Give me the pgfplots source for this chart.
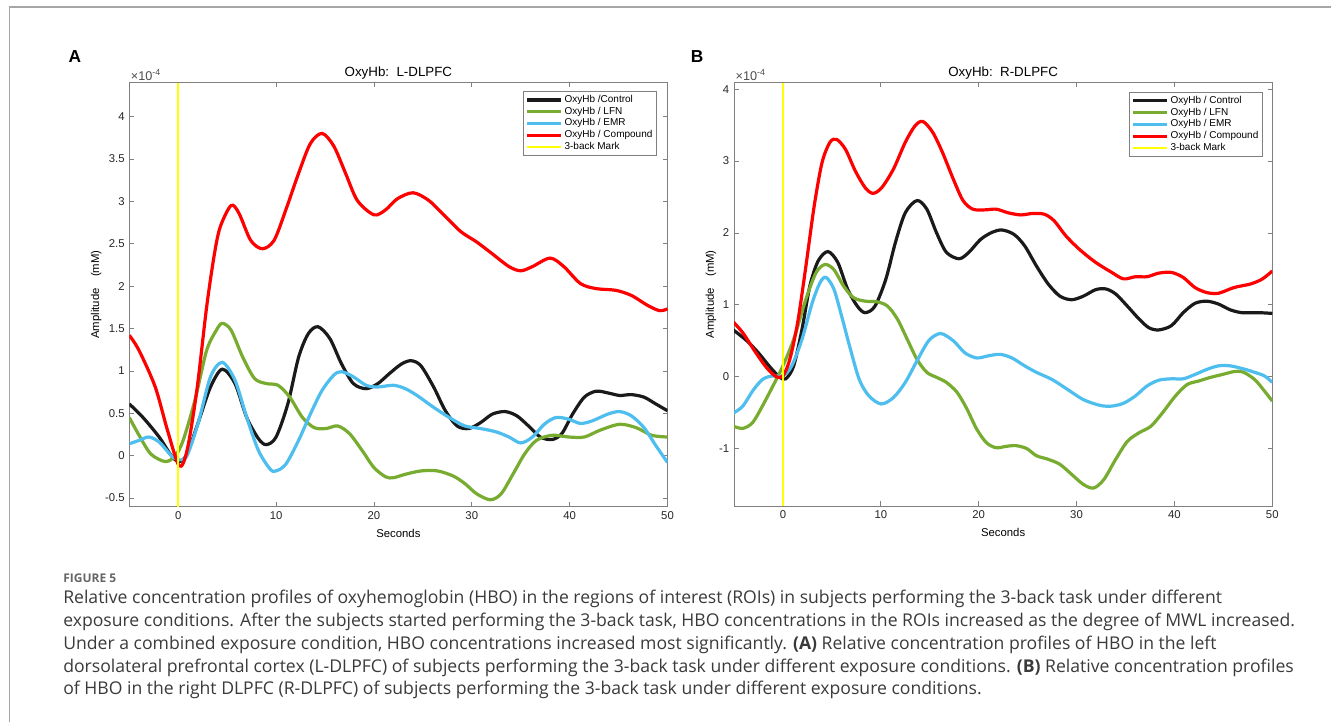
\documentclass[border=0pt]{standalone}
\usepackage{fontspec}
\setmainfont{Liberation Sans}
\newfontfamily\capfont{Open Sans}
\usepackage{pgfplots}
\pgfplotsset{compat=1.18}
\definecolor{ctrl}{HTML}{1A1A1A}
\definecolor{lfn}{HTML}{77AC30}
\definecolor{emr}{HTML}{4DBEEE}
\definecolor{cmp}{HTML}{FF0000}
\definecolor{backmark}{HTML}{FFFF00}
\definecolor{capgray}{HTML}{3A3A3A}

\pgfplotsset{
  oxy/.style={
    scale only axis,
    clip mode=individual,
    xmin=-5, xmax=50,
    xtick={0,10,...,50},
    axis line style={black!50},
    tick style={black!50, line width=0.5pt},
    major tick length=3.5pt,
    tick label style={font=\fontsize{8.5}{10}\selectfont, text=black!85},
    /pgf/number format/assume math mode=true,
    yticklabel style={/pgf/number format/fixed},
    every axis title shift=0pt,
    title style={font=\fontsize{10}{12}\selectfont, at={(0.5,1)}, anchor=south, yshift=-1pt},
    xlabel={Seconds},
    xlabel style={font=\fontsize{8.5}{10}\selectfont, at={(axis description cs:0.5,0)}, anchor=center, yshift=-19.9pt},
    ylabel={Amplitude\hspace{1em}(mM)},
    ylabel style={font=\fontsize{8.5}{10}\selectfont, anchor=center},
    legend cell align=left,
    legend style={draw=black!50, line width=0.5pt, font=\fontsize{7.5}{8}\selectfont,
      anchor=north east, inner sep=2pt, row sep=0pt,
      nodes={inner sep=1.2pt, text height=5pt, text depth=1.45pt}},
    legend image code/.code={\draw[#1] (0pt,0pt) -- (25.5pt,0pt);},
  },
  curve/.style={line width=2.4pt, smooth, tension=0.5},
  markline/.style={backmark, line width=1.5pt, sharp plot},
}

\begin{document}
\begin{tikzpicture}
\useasboundingbox (0,0) rectangle (998.25pt,-541.5pt);
\draw[black!35, line width=1pt] (7.1pt,-541.5pt) -- (7.1pt,-5.25pt) -- (998.25pt,-5.25pt);

\node[font=\bfseries\fontsize{13}{15}\selectfont] at (56.25pt,-42.75pt) {A};
\node[font=\bfseries\fontsize{13}{15}\selectfont] at (522.75pt,-42.75pt) {B};

% panel A
\begin{axis}[oxy,
  at={(96.975pt,-379.9pt)}, anchor=south west,
  width=403.65pt, height=318pt,
  ymin=-0.6, ymax=4.4,
  ytick={-0.5,0,0.5,1,1.5,2,2.5,3,3.5,4},
  title={OxyHb:\ \ L-DLPFC},
  ylabel style={at={(axis description cs:-0.0617,0.5)}},
  legend style={at={(rel axis cs:0.9805,0.98)}},
]
\addplot[curve, ctrl] coordinates {
(-5,0.61)(-3.6,0.45)(-1.95,0.22)(-0.7,0.0)(0.1,-0.07)(0.9,0.02)(2.1,0.41)(3.3,0.81)
(4.5,1.02)(5.8,0.85)(7.0,0.45)(8.2,0.20)(9.0,0.13)(10.0,0.22)(11.2,0.61)(12.3,1.16)
(13.3,1.44)(14.3,1.52)(15.5,1.38)(16.7,1.08)(17.9,0.85)(19.2,0.79)(20.4,0.85)(21.6,0.97)
(22.8,1.08)(23.8,1.12)(24.8,1.06)(26.1,0.81)(27.3,0.53)(28.5,0.35)(29.7,0.32)(30.9,0.39)
(32.1,0.49)(33.4,0.52)(34.6,0.47)(35.8,0.35)(37.0,0.22)(38.2,0.19)(39.2,0.26)(40.3,0.49)
(41.5,0.69)(42.7,0.76)(43.9,0.74)(45.1,0.71)(46.3,0.72)(47.6,0.69)(48.8,0.61)(50,0.53)
};
\addplot[curve, lfn] coordinates {
(-5,0.45)(-4,0.24)(-2.8,0.02)(-1.3,-0.07)(-0.3,0.0)(0.5,0.18)(1.7,0.65)(2.9,1.24)
(3.9,1.48)(4.5,1.56)(5.4,1.48)(6.6,1.16)(7.8,0.91)(9.0,0.85)(10.2,0.83)(11.4,0.69)
(12.7,0.45)(13.9,0.33)(15.1,0.32)(16.3,0.35)(17.5,0.26)(18.8,0.06)(20.0,-0.14)(21.2,-0.25)
(22.0,-0.26)(23.2,-0.22)(24.8,-0.18)(26.5,-0.18)(28.1,-0.24)(29.3,-0.33)(30.5,-0.45)(31.9,-0.52)
(33.0,-0.45)(34.2,-0.22)(35.4,0.02)(36.6,0.18)(38.2,0.24)(39.9,0.22)(41.5,0.22)(43.1,0.30)
(45.1,0.37)(46.8,0.33)(48.4,0.24)(50,0.22)
};
\addplot[curve, emr] coordinates {
(-5,0.14)(-4,0.18)(-3.0,0.22)(-1.95,0.16)(-0.7,0.0)(0.1,-0.05)(0.9,0.0)(2.1,0.41)
(3.3,0.93)(4.5,1.10)(5.8,0.89)(7.0,0.45)(8.2,0.06)(9.4,-0.16)(10.0,-0.18)(11.0,-0.10)
(12.3,0.18)(13.5,0.49)(14.7,0.77)(15.9,0.95)(16.7,0.99)(17.9,0.93)(19.2,0.83)(20.4,0.81)
(22.0,0.83)(23.2,0.79)(24.4,0.71)(26.1,0.57)(27.7,0.45)(29.3,0.35)(30.9,0.32)(32.5,0.28)
(33.8,0.22)(35.0,0.15)(36.2,0.22)(37.4,0.37)(38.6,0.45)(39.9,0.43)(41.1,0.38)(42.3,0.41)
(43.9,0.49)(45.1,0.52)(46.3,0.47)(47.6,0.33)(48.8,0.12)(50,-0.08)
};
\addplot[curve, cmp] coordinates {
(-5,1.42)(-4,1.24)(-2.35,0.81)(-1.1,0.30)(0.1,-0.12)(0.9,0.06)(1.9,0.77)(2.9,1.75)
(3.7,2.38)(4.3,2.70)(5.4,2.95)(6.2,2.86)(7.4,2.54)(8.6,2.44)(9.8,2.54)(11.0,2.90)
(12.3,3.33)(13.5,3.68)(14.7,3.80)(15.9,3.65)(17.1,3.33)(18.3,3.01)(20.0,2.84)(21.2,2.90)
(22.4,3.03)(24.0,3.10)(25.6,3.01)(27.3,2.82)(28.9,2.64)(30.5,2.52)(32.1,2.38)(33.8,2.23)
(35.0,2.18)(36.2,2.23)(38.0,2.33)(39.4,2.23)(41.1,2.03)(42.7,1.97)(44.7,1.95)(46.3,1.89)
(48.0,1.77)(49.2,1.71)(50,1.73)
};
\addplot[markline] coordinates {(0,-0.6)(0,1.9)(0,4.4)};
\legend{OxyHb /Control, OxyHb / LFN, OxyHb / EMR, OxyHb / Compound, 3-back Mark}
\node[anchor=south west, inner sep=1pt, font=\fontsize{9.5}{10}\selectfont, text=black!70]
  at (rel axis cs:0,1) {×10\textsuperscript{-4}};
\end{axis}

% panel B
\begin{axis}[oxy,
  at={(550.5pt,-379.5pt)}, anchor=south west,
  width=403.7pt, height=317.5pt,
  ymin=-1.8, ymax=4.09,
  ytick={-1,0,1,2,3,4},
  title={OxyHb:\ \ R-DLPFC},
  ylabel style={at={(axis description cs:-0.0427,0.5)}},
  legend style={at={(rel axis cs:0.9827,0.978)}},
]
\addplot[curve, ctrl] coordinates {
(-5.07,0.65)(-3.7,0.50)(-2.5,0.33)(-1.3,0.13)(-0.3,-0.01)(0.3,-0.03)(1.1,0.15)(1.95,0.66)
(2.75,1.26)(3.6,1.61)(4.6,1.74)(5.6,1.59)(6.6,1.22)(7.6,0.98)(8.4,0.89)(9.4,0.98)
(10.5,1.35)(11.5,1.87)(12.5,2.28)(13.7,2.45)(14.7,2.33)(15.7,2.00)(16.7,1.73)(18.0,1.64)
(19.0,1.73)(20.2,1.91)(21.4,2.01)(22.4,2.04)(23.6,1.98)(24.7,1.82)(25.9,1.54)(27.1,1.29)
(28.3,1.12)(29.5,1.07)(30.7,1.12)(31.95,1.21)(33.0,1.22)(34.0,1.15)(35.2,0.98)(36.4,0.80)
(37.4,0.68)(38.4,0.65)(39.7,0.71)(40.9,0.89)(42.1,1.02)(43.3,1.05)(44.5,1.01)(45.7,0.93)
(46.9,0.89)(48.6,0.89)(50,0.88)
};
\addplot[curve, lfn] coordinates {
(-5.07,-0.69)(-4.1,-0.72)(-3.1,-0.64)(-2.1,-0.41)(-1.1,-0.15)(0,0.15)(1.1,0.52)(2.35,1.08)
(3.4,1.45)(4.3,1.56)(5.2,1.49)(6.2,1.26)(7.2,1.10)(8.4,1.05)(9.65,1.04)(10.7,0.98)
(11.7,0.80)(12.7,0.52)(13.7,0.24)(14.7,0.06)(15.7,-0.01)(16.7,-0.08)(17.8,-0.22)(18.8,-0.45)
(19.8,-0.73)(20.8,-0.92)(21.8,-0.99)(22.8,-0.97)(23.8,-0.96)(24.9,-1.00)(25.9,-1.10)(27.1,-1.15)
(28.3,-1.22)(29.5,-1.36)(30.7,-1.50)(31.75,-1.55)(32.8,-1.43)(34.0,-1.15)(35.2,-0.90)(36.4,-0.78)
(37.6,-0.69)(38.8,-0.50)(40.1,-0.27)(41.3,-0.11)(42.5,-0.06)(43.7,-0.01)(44.9,0.03)(46.1,0.07)
(47.0,0.065)(48.2,-0.04)(49.2,-0.20)(50,-0.34)
};
\addplot[curve, emr] coordinates {
(-5.07,-0.51)(-4.1,-0.41)(-3.1,-0.20)(-2.1,-0.04)(-1.1,0.01)(0,0.01)(0.9,0.15)(1.95,0.52)
(3.0,1.03)(3.8,1.31)(4.4,1.38)(5.2,1.22)(6.0,0.84)(6.8,0.43)(7.8,-0.04)(8.8,-0.27)
(10.05,-0.38)(11.3,-0.29)(12.5,-0.08)(13.7,0.22)(14.9,0.50)(16.1,0.60)(17.4,0.50)(18.6,0.33)
(19.8,0.26)(21.0,0.29)(22.2,0.31)(23.4,0.26)(24.7,0.15)(25.9,0.06)(27.5,-0.04)(29.1,-0.18)
(30.7,-0.32)(32.4,-0.40)(33.6,-0.41)(34.8,-0.37)(36.0,-0.27)(37.2,-0.13)(38.4,-0.05)(39.7,-0.03)
(40.9,-0.03)(42.1,0.03)(43.3,0.10)(44.5,0.15)(45.7,0.15)(47.0,0.11)(48.2,0.06)(49.2,0.01)
(50,-0.08)
};
\addplot[curve, cmp] coordinates {
(-5.07,0.76)(-4.1,0.61)(-2.9,0.36)(-1.7,0.13)(-0.7,0.0)(0,0.01)(0.7,0.24)(1.5,0.75)
(2.35,1.54)(3.2,2.38)(4.0,2.98)(4.8,3.26)(5.5,3.30)(6.4,3.16)(7.4,2.86)(8.4,2.63)
(9.2,2.55)(10.1,2.63)(11.3,2.89)(12.5,3.26)(13.5,3.49)(14.3,3.55)(15.3,3.40)(16.3,3.12)
(17.4,2.75)(18.4,2.45)(19.4,2.33)(20.6,2.32)(21.8,2.33)(23.0,2.28)(24.3,2.25)(25.5,2.27)
(26.7,2.26)(27.7,2.17)(28.9,1.96)(30.3,1.77)(31.95,1.59)(33.6,1.45)(34.8,1.36)(36.0,1.39)
(37.2,1.39)(38.4,1.44)(39.7,1.45)(40.9,1.38)(42.1,1.24)(43.3,1.17)(44.5,1.16)(46.1,1.24)
(47.8,1.29)(49.0,1.36)(50,1.47)
};
\addplot[markline] coordinates {(0,-1.8)(0,1.1)(0,4.09)};
\legend{OxyHb / Control, OxyHb / LFN, OxyHb / EMR, OxyHb / Compound, 3-back Mark}
\node[anchor=south west, inner sep=1pt, font=\fontsize{9.5}{10}\selectfont, text=black!70]
  at (rel axis cs:0,1) {×10\textsuperscript{-4}};
\end{axis}

% caption
\node[anchor=base west, inner sep=0pt, text=black!60, font=\capfont\bfseries\fontsize{9}{10}\selectfont]
  at (47.25pt,-436.5pt) {FIGURE 5};
\begin{scope}[every node/.style={anchor=base west, inner sep=0pt, text=capgray, font=\capfont\fontsize{13.2}{15}\selectfont}]
\node at (47.25pt,-452.25pt) {Relative concentration profiles of oxyhemoglobin (HBO) in the regions of interest (ROIs) in subjects performing the 3-back task under different};
\node at (47.25pt,-469.5pt) {exposure conditions. After the subjects started performing the 3-back task, HBO concentrations in the ROIs increased as the degree of MWL increased.};
\node at (47.25pt,-486.75pt) {Under a combined exposure condition, HBO concentrations increased most significantly. \textbf{(A)} Relative concentration profiles of HBO in the left};
\node at (47.25pt,-504pt) {dorsolateral prefrontal cortex (L-DLPFC) of subjects performing the 3-back task under different exposure conditions. \textbf{(B)} Relative concentration profiles};
\node at (47.25pt,-520.5pt) {of HBO in the right DLPFC (R-DLPFC) of subjects performing the 3-back task under different exposure conditions.};
\end{scope}
\end{tikzpicture}
\end{document}
